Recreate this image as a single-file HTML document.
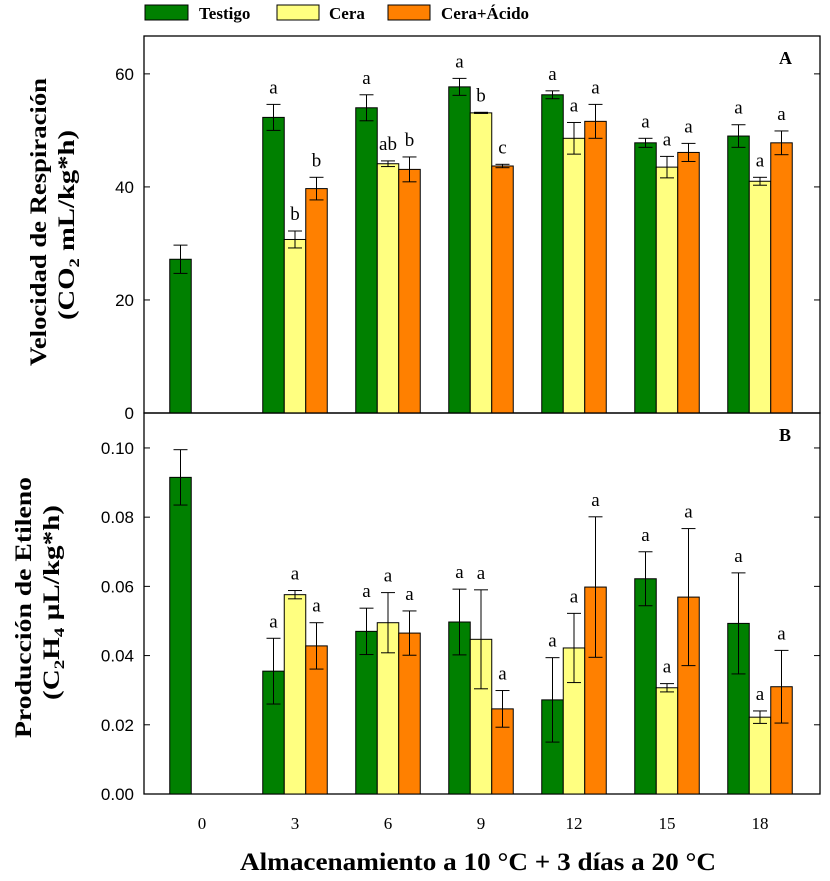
<!DOCTYPE html>
<html><head><meta charset="utf-8"><style>
body{margin:0;background:#fff;width:830px;height:876px;overflow:hidden}
svg{font-family:"Liberation Serif",serif}
</style></head><body>
<svg id="chart" width="830" height="876" xmlns="http://www.w3.org/2000/svg">
<g id="legend" font-weight="bold" font-size="17">
 <rect x="145" y="5" width="43" height="15" fill="#008000" stroke="#000"/>
 <text x="199" y="19">Testigo</text>
 <rect x="277" y="5" width="42" height="15" fill="#ffff80" stroke="#000"/>
 <text x="329" y="19">Cera</text>
 <rect x="388" y="5" width="42" height="15" fill="#ff8000" stroke="#000"/>
 <text x="441" y="19">Cera+Ácido</text>
</g>
<g id="plots"></g>
<text x="240" y="870" textLength="476" lengthAdjust="spacingAndGlyphs" font-weight="bold" font-size="25">Almacenamiento a 10 °C + 3 días a 20 °C</text>
<text transform="translate(46,366) rotate(-90)" textLength="288" lengthAdjust="spacingAndGlyphs" font-weight="bold" font-size="23">Velocidad de Respiración</text>
<text transform="translate(74,320) rotate(-90)" textLength="190" lengthAdjust="spacingAndGlyphs" font-weight="bold" font-size="23">(CO<tspan font-size="15" dy="5">2</tspan><tspan dy="-5"> mL/kg*h)</tspan></text>
<text transform="translate(31,738) rotate(-90)" textLength="261" lengthAdjust="spacingAndGlyphs" font-weight="bold" font-size="23">Producción de Etileno</text>
<text transform="translate(59,700) rotate(-90)" textLength="195" lengthAdjust="spacingAndGlyphs" font-weight="bold" font-size="23">(C<tspan font-size="15" dy="5">2</tspan><tspan dy="-5">H</tspan><tspan font-size="15" dy="5">4</tspan><tspan dy="-5"> µL/kg*h)</tspan></text>
</svg>
<script>
const categories=[0,3,6,9,12,15,18];
const seriesNames=["Testigo","Cera","Cera+Ácido"];
const seriesColors=["#008000","#ffff80","#ff8000"];
const respTestigo=[27.2,52.3,54.0,57.7,56.3,47.8,49.0];
const respTestigoErr=[2.5,2.3,2.3,1.5,0.7,0.8,2.0];
const respCera=[null,30.7,44.1,53.1,48.6,43.5,41.0];
const respCeraErr=[0,1.5,0.5,0.1,2.8,1.9,0.7];
const respAcido=[null,39.7,43.1,43.7,51.6,46.1,47.8];
const respAcidoErr=[0,2.0,2.2,0.3,3.0,1.6,2.1];
const respLetters=[["","a","a","a","a","a","a"],["","b","ab","b","a","a","a"],["","b","b","c","a","a","a"]];
const respTicks=[0,20,40,60];
const etTestigo=[0.0915,0.0355,0.047,0.0497,0.0272,0.0622,0.0493];
const etTestigoErr=[0.008,0.0095,0.0067,0.0095,0.0122,0.0078,0.0146];
const etCera=[null,0.0576,0.0495,0.0447,0.0422,0.0307,0.0222];
const etCeraErr=[0,0.0012,0.0087,0.0143,0.01,0.0012,0.0018];
const etAcido=[null,0.0428,0.0465,0.0246,0.0598,0.0569,0.031];
const etAcidoErr=[0,0.0067,0.0064,0.0053,0.0203,0.0198,0.0105];
const etLetters=[["","a","a","a","a","a","a"],["","a","a","a","a","a","a"],["","a","a","a","a","a","a"]];
const etTicks=[0,0.02,0.04,0.06,0.08,0.10];

const NS="http://www.w3.org/2000/svg";
const root=document.getElementById('plots');
function mk(tag,attrs,parent,text){const e=document.createElementNS(NS,tag);for(const k in attrs)e.setAttribute(k,attrs[k]);if(text!==undefined)e.textContent=text;parent.appendChild(e);return e;}
const L=144,R=820;
function xCenter(i){return 202+i*93;}
const BW=21.5;
function drawPanel(o){
 const g=mk('g',{},root);
 
 
 const y=v=>o.y0-(v-o.min)/(o.max-o.min)*(o.y0-o.yTop);
 const frame=mk('rect',{x:L,y:o.yTop,width:R-L,height:o.y0-o.yTop,fill:'none',stroke:'#000','stroke-width':1.3},g);
 
 
 o.ticks.forEach(t=>{
  const yy=y(t);
  mk('line',{x1:L,x2:L+6,y1:yy,y2:yy,stroke:'#000'},g);
  mk('line',{x1:R-6,x2:R,y1:yy,y2:yy,stroke:'#000'},g);
  const lb=mk('text',{x:L-10,y:yy+6,'text-anchor':'end','font-size':17,'font-family':'Liberation Sans, sans-serif'},g,o.fmt(t));
  
  
 });
 o.series.forEach((vals,s)=>{
  vals.forEach((v,i)=>{
   if(v===null)return;
   const cx=xCenter(i)+(s-1)*BW;
   const top=y(v);
   const b=mk('rect',{x:cx-BW/2,y:top,width:BW,height:o.y0-top,fill:seriesColors[s],stroke:'#000','stroke-width':1},g);
   
   
   const e=o.errs[s][i];
   const y1=y(v+e),y2=y(v-e);
   mk('line',{x1:cx,x2:cx,y1:y1,y2:y2,stroke:'#000'},g);
   mk('line',{x1:cx-7,x2:cx+7,y1:y1,y2:y1,stroke:'#000'},g);
   mk('line',{x1:cx-7,x2:cx+7,y1:y2,y2:y2,stroke:'#000'},g);
   const l=o.letters[s][i];
   if(l){const t=mk('text',{x:cx,y:y1-11,'text-anchor':'middle','font-size':19},g,l);
    
    }
  });
 });
 const p=mk('text',{x:R-41,y:o.yTop+28,'font-size':18,'font-weight':'bold'},g,o.label);
 
 
 return y;
}
drawPanel({name:'panel-a',key:'a',label:'A',yTop:36,y0:413,min:0,max:66.7,ticks:respTicks,fmt:t=>String(t),
 series:[respTestigo,respCera,respAcido],errs:[respTestigoErr,respCeraErr,respAcidoErr],letters:respLetters});
drawPanel({name:'panel-b',key:'b',label:'B',yTop:413,y0:794,min:0,max:0.1101,ticks:etTicks,fmt:t=>t.toFixed(2),
 series:[etTestigo,etCera,etAcido],errs:[etTestigoErr,etCeraErr,etAcidoErr],letters:etLetters});
categories.forEach((c,i)=>{
 const x=xCenter(i);
 mk('line',{x1:x,x2:x,y1:794,y2:802},root);
 const t=mk('text',{x:x,y:829,'text-anchor':'middle','font-size':17},root,String(c));
 
 
});
</script>
</body></html>
